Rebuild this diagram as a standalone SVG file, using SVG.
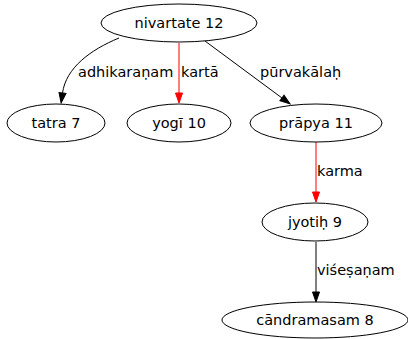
<svg xmlns="http://www.w3.org/2000/svg" width="408" height="339" viewBox="0 0 408 339">
  <style>
    .node ellipse { fill: #ffffff; stroke: #000000; stroke-width: 1; }
    text { font-family: "DejaVu Sans", "Liberation Sans", sans-serif; font-size: 14.5px; fill: #000000; }
    .node text { text-anchor: middle; }
    .edge path { fill: none; stroke-width: 1; }
    .black path { stroke: #000000; }
    .red path { stroke: #ff0000; }
  </style>
  <defs>
    <marker id="arrow-black" markerUnits="userSpaceOnUse" markerWidth="10" markerHeight="8" refX="0" refY="3.5" orient="auto" overflow="visible">
      <path d="M0,0 L10,3.5 L0,7 z" fill="#000000" stroke="#000000"/>
    </marker>
    <marker id="arrow-red" markerUnits="userSpaceOnUse" markerWidth="10" markerHeight="8" refX="0" refY="3.5" orient="auto" overflow="visible">
      <path d="M0,0 L10,3.5 L0,7 z" fill="#ff0000" stroke="#ff0000"/>
    </marker>
  </defs>
  <rect width="408" height="339" fill="#ffffff"/>

  <g id="edges">
    <g class="edge black">
      <path d="M119,38 C90,50 66,68 62.5,93" marker-end="url(#arrow-black)"/>
      <text x="78" y="77">adhikaraṇam</text>
    </g>
    <g class="edge red">
      <path d="M179,43 L179,93" marker-end="url(#arrow-red)"/>
      <text x="181" y="77">kartā</text>
    </g>
    <g class="edge black">
      <path d="M205,41 L282,98" marker-end="url(#arrow-black)"/>
      <text x="260" y="77">pūrvakālaḥ</text>
    </g>
    <g class="edge red">
      <path d="M316,142 L316,192" marker-end="url(#arrow-red)"/>
      <text x="317" y="176">karma</text>
    </g>
    <g class="edge black">
      <path d="M316,242 L316,292" marker-end="url(#arrow-black)"/>
      <text x="317" y="275">viśeṣaṇam</text>
    </g>
  </g>

  <g id="n12" class="node">
    <ellipse cx="179" cy="23" rx="78" ry="19"/>
    <text x="179" y="28">nivartate 12</text>
  </g>
  <g id="n7" class="node">
    <ellipse cx="56" cy="123" rx="49" ry="19"/>
    <text x="56" y="128">tatra 7</text>
  </g>
  <g id="n10" class="node">
    <ellipse cx="179" cy="123" rx="52" ry="19"/>
    <text x="179" y="128">yogī 10</text>
  </g>
  <g id="n11" class="node">
    <ellipse cx="316" cy="123" rx="66" ry="19"/>
    <text x="316" y="128">prāpya 11</text>
  </g>
  <g id="n9" class="node">
    <ellipse cx="315" cy="222" rx="53" ry="19"/>
    <text x="315" y="227">jyotiḥ 9</text>
  </g>
  <g id="n8" class="node">
    <ellipse cx="315" cy="320" rx="93" ry="18"/>
    <text x="315" y="325">cāndramasam 8</text>
  </g>
</svg>
